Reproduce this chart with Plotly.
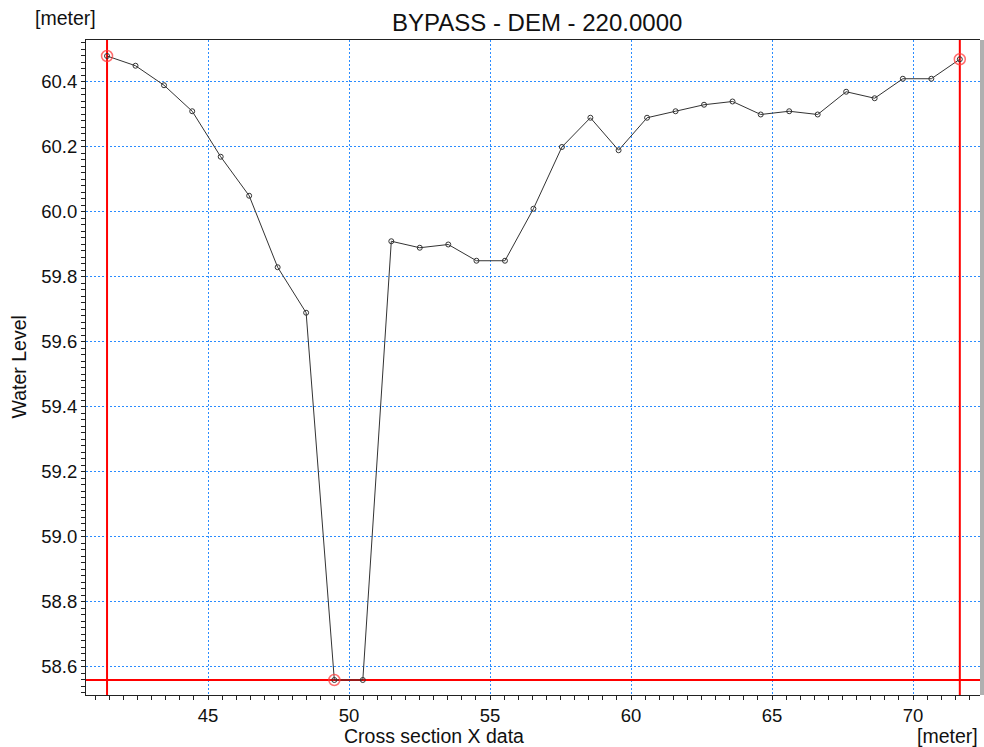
import plotly.graph_objects as go

# Cross-section data
x_data = [41.42, 42.43, 43.44, 44.44, 45.45, 46.46, 47.47, 48.48, 49.48, 50.49,
          51.50, 52.51, 53.52, 54.52, 55.53, 56.54, 57.55, 58.56, 59.56, 60.57,
          61.58, 62.59, 63.60, 64.60, 65.61, 66.62, 67.63, 68.64, 69.64, 70.65,
          71.66]
water_level = [60.48, 60.45, 60.39, 60.31, 60.17, 60.05, 59.83, 59.69, 58.56, 58.56,
               59.91, 59.89, 59.90, 59.85, 59.85, 60.01, 60.20, 60.29, 60.19, 60.29,
               60.31, 60.33, 60.34, 60.30, 60.31, 60.30, 60.37, 60.35, 60.41, 60.41,
               60.47]
y_ticks = [58.6, 58.8, 59.0, 59.2, 59.4, 59.6, 59.8, 60.0, 60.2, 60.4]
x_ticks = [45, 50, 55, 60, 65, 70]

title_text = "BYPASS - DEM - 220.0000"

FONT = "Arial, Liberation Sans, sans-serif"

imin = water_level.index(min(water_level))
marked_x = [x_data[0], x_data[imin], x_data[-1]]
marked_y = [water_level[0], water_level[imin], water_level[-1]]

fig = go.Figure()

# red limit lines
fig.add_trace(go.Scatter(x=[x_data[0], x_data[0]], y=[58.0, 61.0], mode="lines",
                         line=dict(color="#ff0000", width=2), hoverinfo="skip"))
fig.add_trace(go.Scatter(x=[x_data[-1], x_data[-1]], y=[58.0, 61.0], mode="lines",
                         line=dict(color="#ff0000", width=2), hoverinfo="skip"))
fig.add_trace(go.Scatter(x=[40.0, 73.0], y=[min(water_level)] * 2, mode="lines",
                         line=dict(color="#ff0000", width=2), hoverinfo="skip"))

# main profile
fig.add_trace(go.Scatter(x=x_data, y=water_level, mode="lines+markers",
                         line=dict(color="#333333", width=1),
                         marker=dict(symbol="circle-open", size=5,
                                     color="#333333", line=dict(width=1))))

# red circled markers
fig.add_trace(go.Scatter(x=marked_x, y=marked_y, mode="markers",
                         marker=dict(symbol="circle-open", size=11,
                                     color="rgba(255,60,60,0.75)",
                                     line=dict(width=1.5))))

GRID = "#2a8cff"

fig.update_layout(
    width=984, height=747,
    margin=dict(l=86, r=4, t=40, b=52),
    paper_bgcolor="white", plot_bgcolor="white",
    showlegend=False,
    font=dict(family=FONT, size=18.5, color="#111111"),
    xaxis=dict(range=[40.6738, 72.3759], tickvals=x_ticks,
               showgrid=True, gridcolor=GRID, griddash="2px,2px", gridwidth=1,
               zeroline=False, showline=True, linecolor="#222222", linewidth=1,
               mirror=True,
               ticks="outside", ticklen=4, tickcolor="#222222",
               minor=dict(dtick=0.5, ticks="outside", ticklen=4,
                          tickcolor="#222222", showgrid=False),
               tickfont=dict(size=18.5)),
    yaxis=dict(range=[58.5138, 60.5292], tickvals=y_ticks,
               ticktext=[f"{v:.1f}" for v in y_ticks],
               showgrid=True, gridcolor=GRID, griddash="2px,2px", gridwidth=1,
               zeroline=False, showline=True, linecolor="#222222", linewidth=1,
               ticks="outside", ticklen=4, tickcolor="#222222",
               minor=dict(dtick=0.02, tick0=58.6, ticks="outside", ticklen=4,
                          tickcolor="#222222", showgrid=False),
               tickfont=dict(size=18.5)),
    shapes=[
        dict(type="rect", xref="paper", yref="paper", x0=1.0, x1=1.005,
             y0=0, y1=1, fillcolor="#b0b0b0", line=dict(width=0)),
    ],
    annotations=[
        dict(text=title_text, xref="paper", yref="paper", x=0.504, y=1,
             yshift=18, xanchor="center", yanchor="middle", showarrow=False,
             font=dict(size=24)),
        dict(text="[meter]", xref="paper", yref="paper", x=0, y=1,
             xshift=-53, yshift=22, xanchor="left", yanchor="middle",
             showarrow=False, font=dict(size=19.5)),
        dict(text="Water Level", xref="paper", yref="paper", x=0, y=0.5,
             xshift=-68, xanchor="center", yanchor="middle", textangle=-90,
             showarrow=False, font=dict(size=19.5)),
        dict(text="Cross section X data", xref="paper", yref="paper",
             x=0.389, y=0, yshift=-41, xanchor="center", yanchor="middle",
             showarrow=False, font=dict(size=19.5)),
        dict(text="[meter]", xref="paper", yref="paper", x=1, y=0,
             yshift=-41, xanchor="right", yanchor="middle",
             showarrow=False, font=dict(size=19.5)),
    ],
)

fig.write_html("out.html",
               config={"displayModeBar": False},
               post_script="document.body.style.margin='0';"
                           "document.body.style.overflow='hidden';")
